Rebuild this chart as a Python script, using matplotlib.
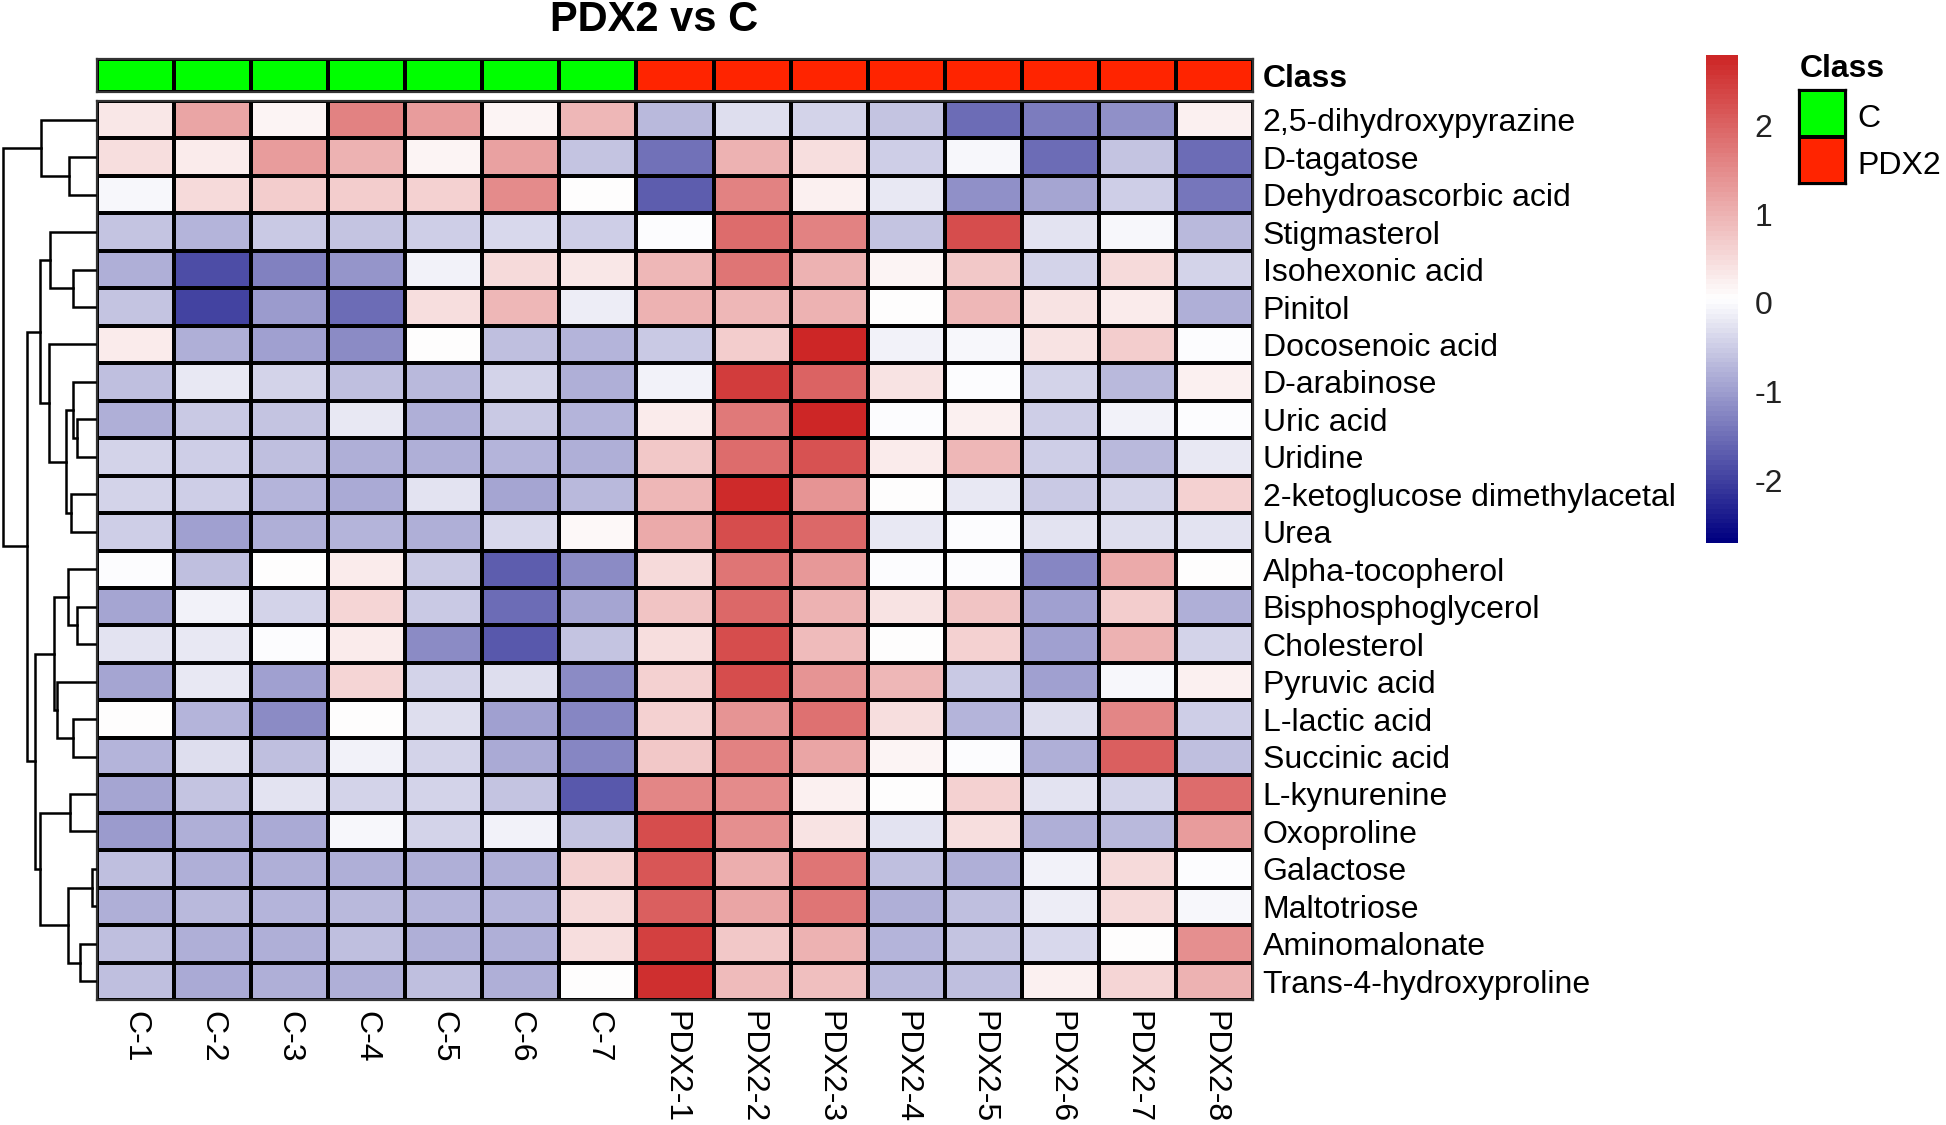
import numpy as np
import matplotlib as mpl
import matplotlib.pyplot as plt
from matplotlib.colors import LinearSegmentedColormap, ListedColormap

mpl.use("Agg")

plt.rcParams["font.family"] = ["Liberation Sans", "DejaVu Sans"]

###############################################################################

title = "PDX2 vs C"

samples = ["C-1", "C-2", "C-3", "C-4", "C-5", "C-6", "C-7",
           "PDX2-1", "PDX2-2", "PDX2-3", "PDX2-4", "PDX2-5", "PDX2-6", "PDX2-7", "PDX2-8"]
sample_class = ["C", "C", "C", "C", "C", "C", "C",
                "PDX2", "PDX2", "PDX2", "PDX2", "PDX2", "PDX2", "PDX2", "PDX2"]
class_names = ["C", "PDX2"]
class_colors = ["#00FF00", "#FF2400"]

metabolites = [
    "2,5-dihydroxypyrazine", "D-tagatose", "Dehydroascorbic acid", "Stigmasterol",
    "Isohexonic acid", "Pinitol", "Docosenoic acid", "D-arabinose", "Uric acid",
    "Uridine", "2-ketoglucose dimethylacetal", "Urea", "Alpha-tocopherol",
    "Bisphosphoglycerol", "Cholesterol", "Pyruvic acid", "L-lactic acid",
    "Succinic acid", "L-kynurenine", "Oxoproline", "Galactose", "Maltotriose",
    "Aminomalonate", "Trans-4-hydroxyproline",
]

# z-scores, columns C-1 .. C-7
control_values = [
    [0.35, 1.20, 0.20, 1.60, 1.30, 0.20, 0.95],
    [0.45, 0.30, 1.30, 1.00, 0.20, 1.25, -0.60],
    [-0.05, 0.50, 0.70, 0.70, 0.65, 1.50, 0.10],
    [-0.60, -0.75, -0.55, -0.60, -0.50, -0.35, -0.50],
    [-0.80, -1.85, -1.30, -1.10, -0.10, 0.50, 0.35],
    [-0.60, -1.95, -1.05, -1.55, 0.45, 0.95, -0.15],
    [0.30, -0.80, -0.95, -1.20, 0.10, -0.65, -0.75],
    [-0.65, -0.20, -0.45, -0.65, -0.70, -0.40, -0.80],
    [-0.80, -0.55, -0.60, -0.20, -0.80, -0.55, -0.75],
    [-0.40, -0.50, -0.65, -0.80, -0.80, -0.75, -0.80],
    [-0.40, -0.50, -0.75, -0.85, -0.25, -0.90, -0.70],
    [-0.50, -0.95, -0.80, -0.75, -0.80, -0.35, 0.15],
    [0.00, -0.65, 0.05, 0.30, -0.55, -1.70, -1.20],
    [-0.90, -0.10, -0.40, 0.55, -0.55, -1.50, -0.90],
    [-0.25, -0.20, 0.00, 0.30, -1.20, -1.75, -0.60],
    [-0.90, -0.20, -0.95, 0.55, -0.45, -0.30, -1.20],
    [0.10, -0.75, -1.20, 0.05, -0.30, -0.95, -1.25],
    [-0.75, -0.30, -0.65, -0.10, -0.45, -0.85, -1.25],
    [-0.90, -0.60, -0.25, -0.40, -0.45, -0.60, -1.75],
    [-1.05, -0.80, -0.85, -0.05, -0.40, -0.10, -0.60],
    [-0.65, -0.80, -0.80, -0.80, -0.80, -0.80, 0.60],
    [-0.80, -0.70, -0.75, -0.70, -0.75, -0.75, 0.50],
    [-0.65, -0.80, -0.80, -0.65, -0.80, -0.80, 0.45],
    [-0.65, -0.85, -0.80, -0.80, -0.65, -0.80, 0.05],
]

# z-scores, columns PDX2-1 .. PDX2-8
pdx2_values = [
    [-0.70, -0.30, -0.45, -0.60, -1.50, -1.35, -1.15, 0.25],
    [-1.45, 1.00, 0.45, -0.50, -0.05, -1.50, -0.60, -1.50],
    [-1.70, 1.60, 0.25, -0.20, -1.15, -0.90, -0.50, -1.40],
    [0.00, 1.90, 1.60, -0.60, 2.30, -0.25, -0.05, -0.70],
    [0.95, 1.80, 1.00, 0.20, 0.75, -0.45, 0.50, -0.45],
    [1.00, 0.95, 1.00, 0.10, 0.95, 0.40, 0.30, -0.80],
    [-0.55, 0.70, 2.80, -0.10, -0.05, 0.40, 0.70, 0.00],
    [-0.10, 2.50, 2.00, 0.40, 0.00, -0.45, -0.70, 0.25],
    [0.30, 1.75, 2.80, 0.00, 0.25, -0.50, -0.10, 0.00],
    [0.75, 1.90, 2.20, 0.30, 0.95, -0.50, -0.70, -0.20],
    [0.95, 2.70, 1.40, 0.10, -0.20, -0.55, -0.40, 0.60],
    [1.10, 2.30, 1.95, -0.20, 0.00, -0.25, -0.30, -0.25],
    [0.50, 1.80, 1.35, 0.00, 0.00, -1.25, 1.10, 0.05],
    [0.80, 1.95, 1.00, 0.40, 0.80, -1.00, 0.70, -0.80],
    [0.45, 2.25, 0.90, 0.05, 0.60, -1.00, 1.00, -0.40],
    [0.60, 2.25, 1.40, 0.95, -0.55, -0.95, -0.05, 0.25],
    [0.60, 1.40, 1.85, 0.45, -0.75, -0.30, 1.55, -0.50],
    [0.75, 1.60, 1.20, 0.20, 0.00, -0.80, 2.05, -0.65],
    [1.55, 1.50, 0.25, 0.05, 0.60, -0.25, -0.45, 1.90],
    [2.30, 1.45, 0.40, -0.25, 0.45, -0.80, -0.70, 1.30],
    [2.15, 1.05, 1.80, -0.65, -0.80, -0.10, 0.50, 0.00],
    [2.05, 1.20, 1.80, -0.80, -0.65, -0.15, 0.50, -0.05],
    [2.45, 0.75, 1.00, -0.75, -0.60, -0.35, 0.05, 1.45],
    [2.65, 0.90, 0.85, -0.70, -0.65, 0.25, 0.55, 1.00],
]

# row dendrogram merges: (left node, right node, height); leaves are 0..23
row_merges = [
    (1, 2, 77), (0, 24, 163),
    (4, 5, 65), (3, 26, 135),
    (8, 9, 55), (7, 28, 65), (10, 11, 73), (29, 30, 88), (6, 31, 137),
    (27, 32, 167),
    (13, 14, 55), (12, 34, 80), (16, 17, 67), (15, 36, 115), (35, 37, 122),
    (18, 19, 75), (20, 21, 10), (22, 23, 45), (40, 41, 80), (39, 42, 165),
    (38, 43, 180), (33, 44, 205), (25, 45, 277),
]

color_min = -2.71
color_max = 2.80
colorbar_ticks = [-2, -1, 0, 1, 2]

###############################################################################

W, H = 1946, 1125


def box(x0, y0, x1, y1):
    # pixel box (top-left origin) -> figure fraction rect
    return [x0 / W, 1 - y1 / H, (x1 - x0) / W, (y1 - y0) / H]


values = np.hstack([np.array(control_values), np.array(pdx2_values)])
n_rows, n_cols = values.shape

cmap = LinearSegmentedColormap.from_list("bwm", ["#000080", "#FFFFFF", "#CD2626"], N=100)

fig = plt.figure(figsize=(W / 100, H / 100), dpi=100)

# heatmap
ax = fig.add_axes(box(97, 101, 1253, 1000))
mesh = ax.pcolormesh(values, cmap=cmap, vmin=color_min, vmax=color_max,
                     edgecolors="black", linewidth=1.6)
ax.set_xlim(0, n_cols)
ax.set_ylim(n_rows, 0)
ax.set_xticks(np.arange(n_cols) + 0.5)
ax.set_xticklabels(samples, rotation=270, fontsize=23)
ax.set_yticks(np.arange(n_rows) + 0.5)
ax.set_yticklabels(metabolites, fontsize=23)
ax.tick_params(axis="both", length=0)
ax.tick_params(axis="x", pad=8)
ax.tick_params(axis="y", pad=7, labelleft=False, labelright=True)
for s in ax.spines.values():
    s.set_linewidth(1.6)
    s.set_color("#333333")

# class annotation bar
ax_c = fig.add_axes(box(97, 59, 1253, 92))
class_codes = np.array([[class_names.index(c) for c in sample_class]])
ax_c.pcolormesh(class_codes, cmap=ListedColormap(class_colors), vmin=0, vmax=1,
                edgecolors="black", linewidth=1.6)
ax_c.set_xlim(0, n_cols)
ax_c.set_ylim(1, 0)
ax_c.set_xticks([])
ax_c.set_yticks([0.5])
ax_c.set_yticklabels(["Class"], fontsize=23, fontweight="bold")
ax_c.tick_params(axis="y", length=0, pad=7, labelleft=False, labelright=True)
for s in ax_c.spines.values():
    s.set_linewidth(1.6)
    s.set_color("#333333")

# row dendrogram
ax_d = fig.add_axes(box(3, 101, 95, 1000))
pos = {i: i + 0.5 for i in range(n_rows)}
hgt = {i: 0.0 for i in range(n_rows)}
for k, (a, b, h) in enumerate(row_merges):
    node = n_rows + k
    ax_d.plot([hgt[a], h, h, hgt[b]], [pos[a], pos[a], pos[b], pos[b]],
              color="black", lw=1.8, solid_joinstyle="miter", clip_on=False)
    pos[node] = (pos[a] + pos[b]) / 2
    hgt[node] = h
ax_d.set_xlim(max(hgt.values()), 0)
ax_d.set_ylim(n_rows, 0)
ax_d.axis("off")

# colorbar
cax = fig.add_axes(box(1706, 55, 1738, 543))
cb = fig.colorbar(mesh, cax=cax, ticks=colorbar_ticks)
cb.outline.set_visible(False)
cax.tick_params(length=0, pad=12, labelsize=23, labelcolor="#222222")
cax.set_yticklabels([str(t) for t in colorbar_ticks])

# class legend
fig.text(1800 / W, 1 - 69 / H, "Class", fontsize=23, fontweight="bold",
         ha="left", va="center")
ax_l = fig.add_axes(box(1799, 90, 1846, 184))
ax_l.pcolormesh(np.arange(len(class_names)).reshape(-1, 1),
                cmap=ListedColormap(class_colors), vmin=0, vmax=1,
                edgecolors="black", linewidth=1.6)
ax_l.set_ylim(len(class_names), 0)
ax_l.set_xticks([])
ax_l.set_yticks([0.55, 1.55])
ax_l.set_yticklabels(class_names, fontsize=23)
ax_l.tick_params(axis="y", length=0, pad=8, labelleft=False, labelright=True)
for s in ax_l.spines.values():
    s.set_linewidth(1.6)

fig.text(654 / W, 1 - 20 / H, title, fontsize=30, fontweight="bold",
         ha="center", va="center")

plt.savefig("out.png", dpi=100)
plt.close()
